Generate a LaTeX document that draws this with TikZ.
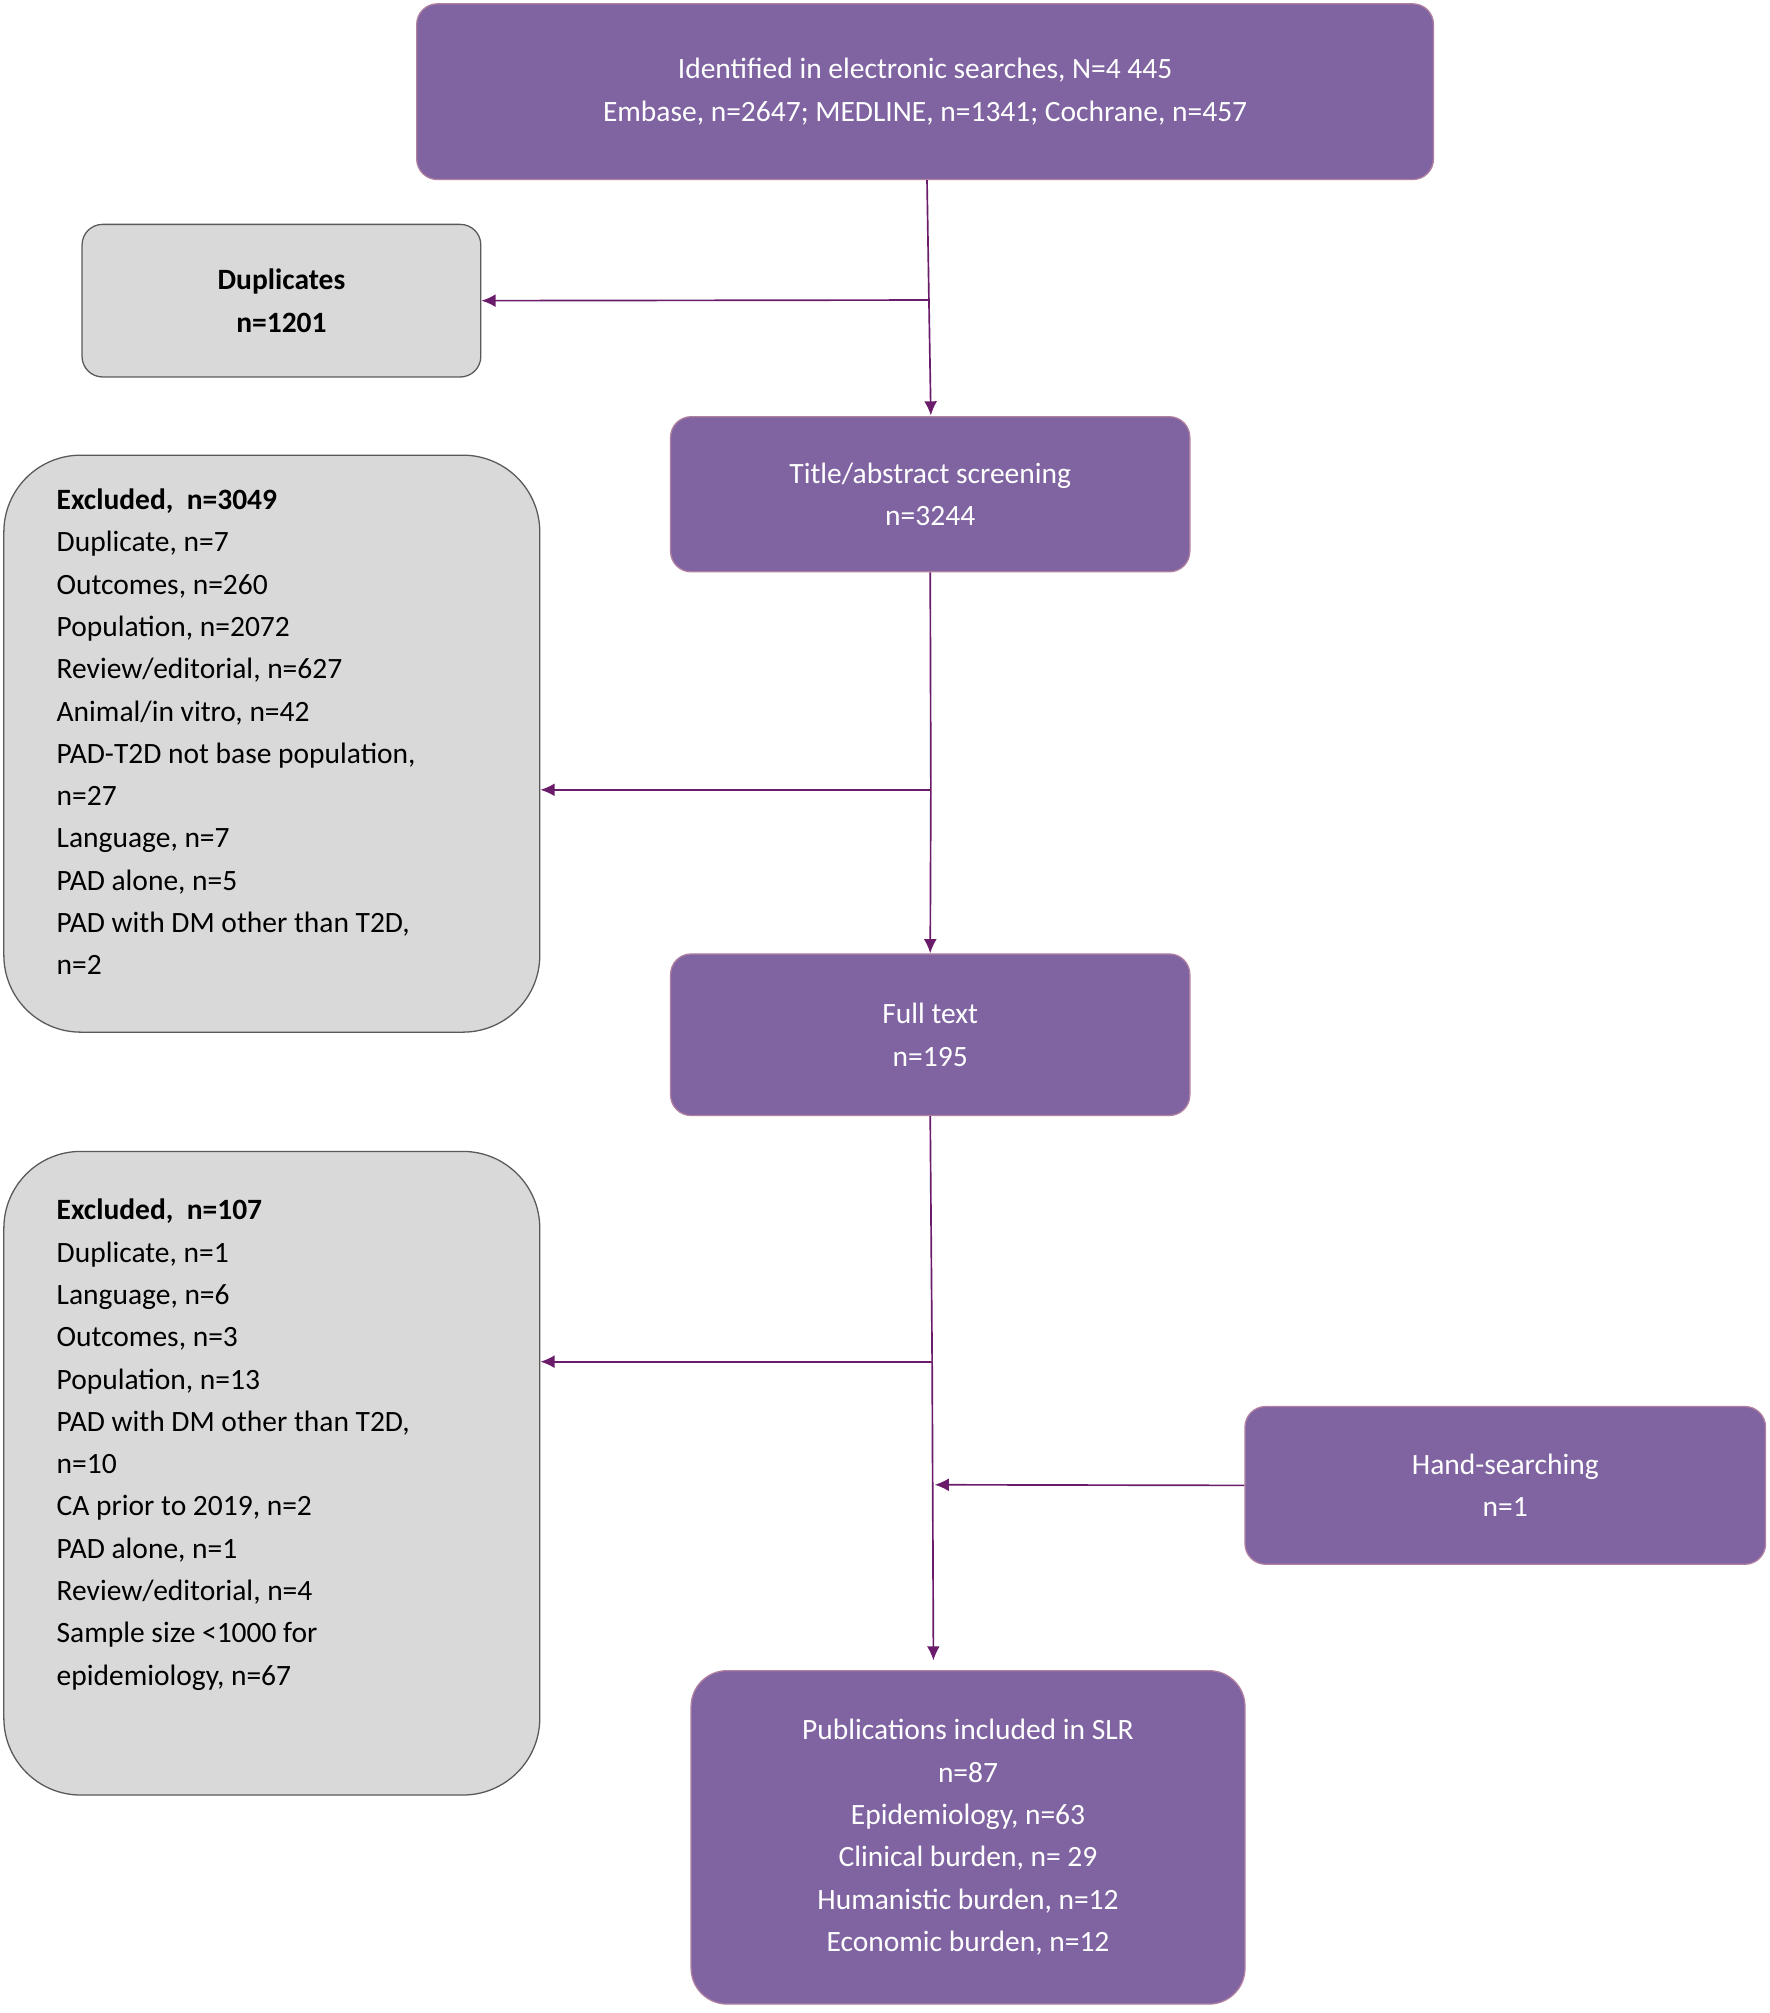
\documentclass[tikz,border=0pt]{standalone}
\usepackage{fontspec}
\setmainfont{Carlito}
\begin{document}
\begin{tikzpicture}[x=1pt,y=-1pt,
  pbox/.style={draw=purple!40!black!60!violet!50, fill=boxp, text=white, rounded corners=16pt, align=center, inner sep=0pt, line width=1pt},
  gbox/.style={draw=gray!70!black, fill=boxg, rounded corners=#1, inner sep=0pt, line width=1pt},
  arr/.style={draw=arrc, line width=1.3pt, -{Latex[length=11pt,width=10pt]}},
  ln/.style={draw=arrc, line width=1.3pt},
  every node/.style={font=\fontsize{23}{33}\selectfont}]
\usetikzlibrary{arrows.meta}
\definecolor{boxp}{HTML}{8064A2}
\definecolor{boxg}{HTML}{D9D9D9}
\definecolor{arrc}{HTML}{6A1B6A}
\useasboundingbox (0,0) rectangle (1380,1570);
\node[pbox, minimum width=793pt, minimum height=137pt] (top) at (721.5,71.5) {Identified in electronic searches, N=4 445\\Embase, n=2647; MEDLINE, n=1341; Cochrane, n=457};
\node[gbox=16pt, minimum width=311pt, minimum height=119pt, align=center, font=\bfseries\fontsize{23}{33}\selectfont] (dup) at (219.5,234.5) {Duplicates\\n=1201};
\node[pbox, minimum width=405pt, minimum height=121pt] (title) at (725.5,385.5) {Title/abstract screening\\n=3244};
\node[gbox=60pt, minimum width=418pt, minimum height=450pt] (ex1) at (212,580) {};
\node[anchor=north west, align=left, inner sep=0pt] (ex1t) at (44,381) {\textbf{Excluded,\ \ n=3049}\\Duplicate, n=7\\Outcomes, n=260\\Population, n=2072\\Review/editorial, n=627\\Animal/in vitro, n=42\\PAD-T2D not base population,\\n=27\\Language, n=7\\PAD alone, n=5\\PAD with DM other than T2D,\\n=2};
\node[pbox, minimum width=405pt, minimum height=126pt] (full) at (725.5,807) {Full text\\n=195};
\node[gbox=60pt, minimum width=418pt, minimum height=502pt] (ex2) at (212,1149) {};
\node[anchor=north west, align=left, inner sep=0pt] (ex2t) at (44,935) {\textbf{Excluded,\ \ n=107}\\Duplicate, n=1\\Language, n=6\\Outcomes, n=3\\Population, n=13\\PAD with DM other than T2D,\\n=10\\CA prior to 2019, n=2\\PAD alone, n=1\\Review/editorial, n=4\\Sample size <1000 for\\epidemiology, n=67};
\node[pbox, minimum width=406pt, minimum height=123pt] (hand) at (1174,1158.5) {Hand-searching\\n=1};
\node[pbox, rounded corners=28pt, minimum width=432pt, minimum height=260pt] (pub) at (755,1433) {Publications included in SLR\\n=87\\Epidemiology, n=63\\Clinical burden, n= 29\\Humanistic burden, n=12\\Economic burden, n=12};
\coordinate (j1) at (724.5,234);
\coordinate (j2) at (726,616);
\coordinate (j3) at (727,1062);
\coordinate (j4) at (729,1158);
\draw[ln] (top.south -| 723,0) -- (j1);
\draw[arr] (j1) -- (726,324);
\draw[arr] (j1) -- (dup.east);
\draw[ln] (title.south) -- (j2);
\draw[arr] (j2) -- (full.north);
\draw[arr] (j2) -- (ex1.east |- j2);
\draw[ln] (full.south) -- (j3);
\draw[arr] (j3) -- (ex2.east |- j3);
\draw[arr] (j3) -- (728,1295);
\draw[arr] (hand.west) -- (j4);
\end{tikzpicture}
\end{document}
